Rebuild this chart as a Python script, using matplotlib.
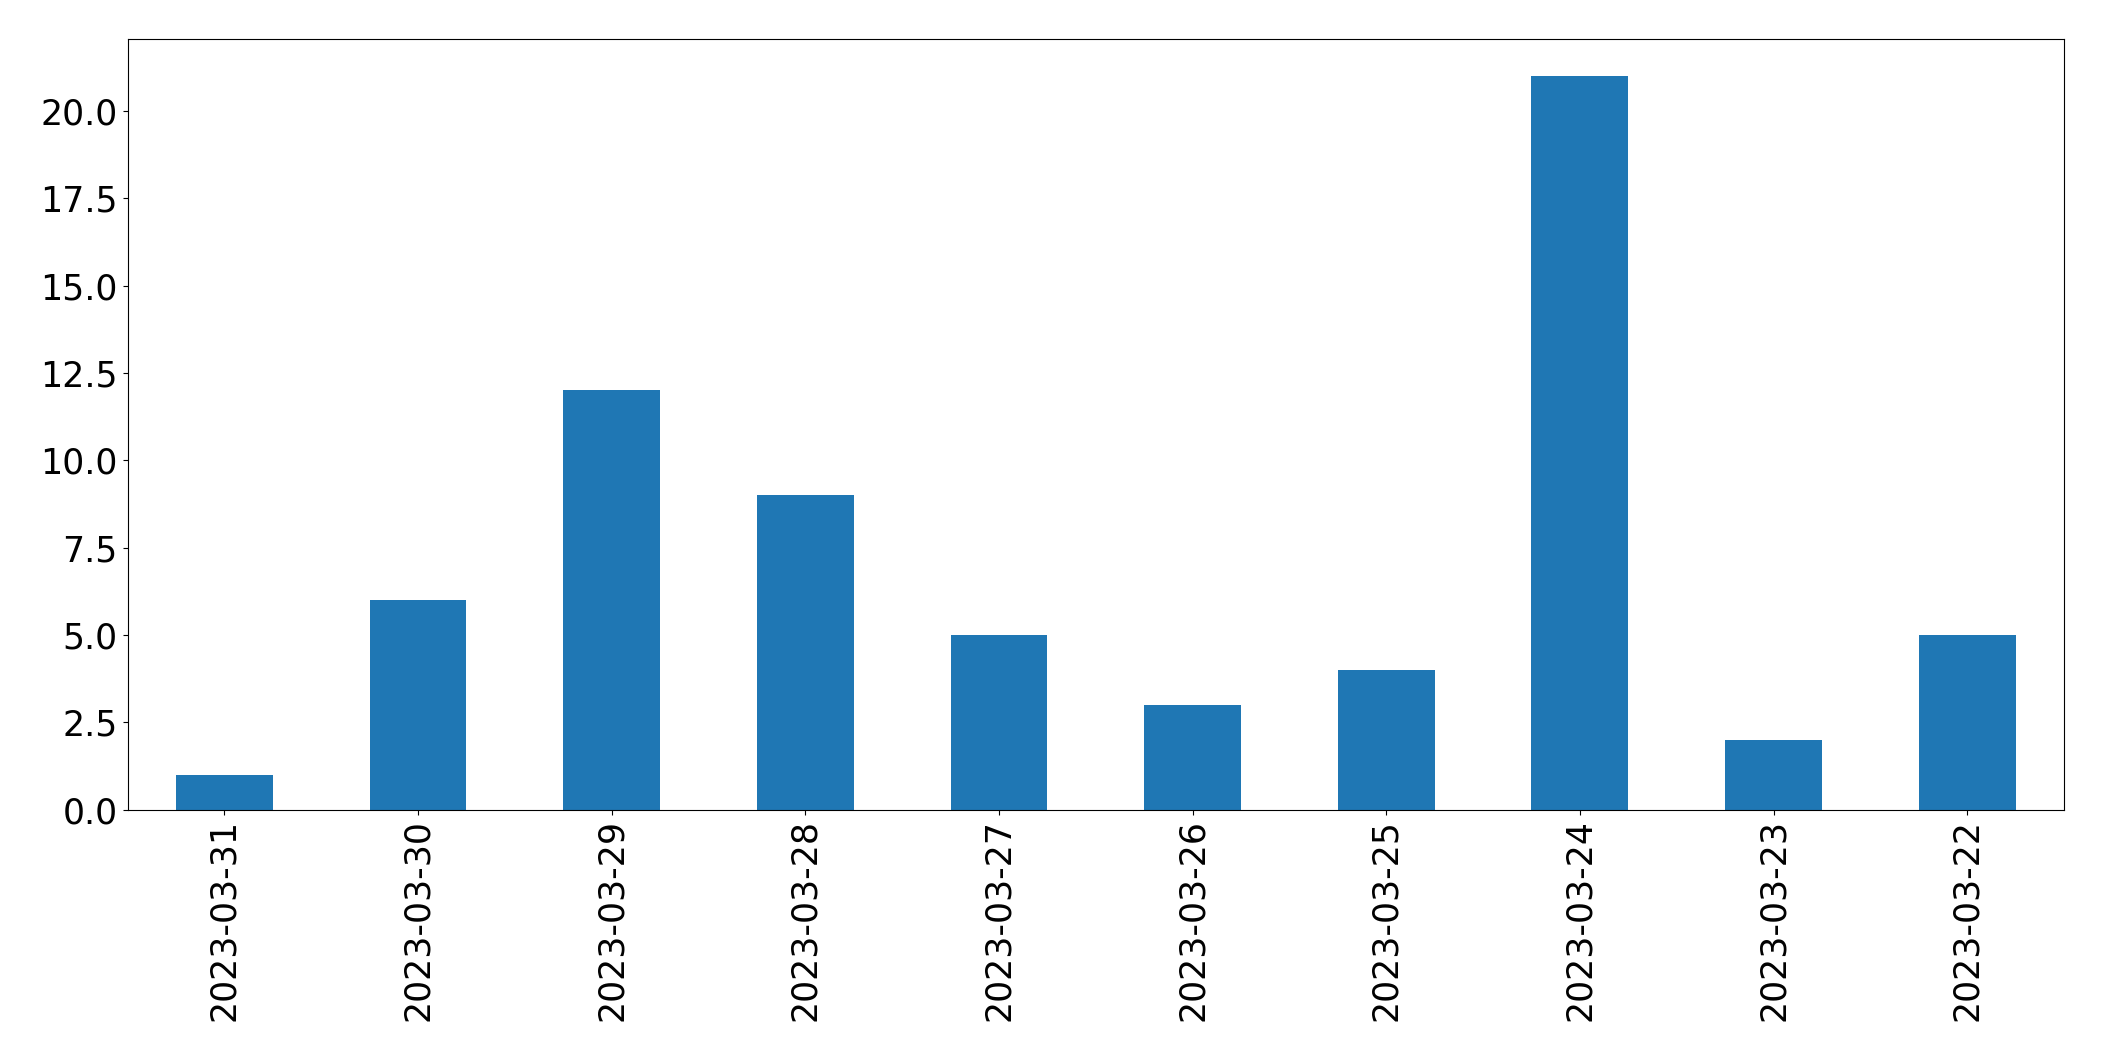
import matplotlib
matplotlib.use("Agg")
import matplotlib.pyplot as plt
import numpy as np

dates = ['2023-03-31', '2023-03-30', '2023-03-29', '2023-03-28', '2023-03-27',
         '2023-03-26', '2023-03-25', '2023-03-24', '2023-03-23', '2023-03-22']
counts = [1, 6, 12, 9, 5, 3, 4, 21, 2, 5]

fig = plt.figure(figsize=(21.04, 10.61), dpi=100)
ax = fig.add_axes([0.0606, 0.237, 0.9204, 0.726])

x = np.arange(len(dates))
ax.bar(x, counts, width=0.5, color='#1f77b4')
ax.set_xlim(-0.5, len(dates) - 0.5)
ax.set_ylim(0, max(counts) * 1.05)
ax.set_yticks(np.arange(0, 22, 2.5))
ax.set_yticklabels([f"{v:.1f}" for v in np.arange(0, 22, 2.5)])
ax.set_xticks(x)
ax.set_xticklabels(dates, rotation=90)
ax.tick_params(labelsize=25)

fig.savefig("out.png", dpi=100)
